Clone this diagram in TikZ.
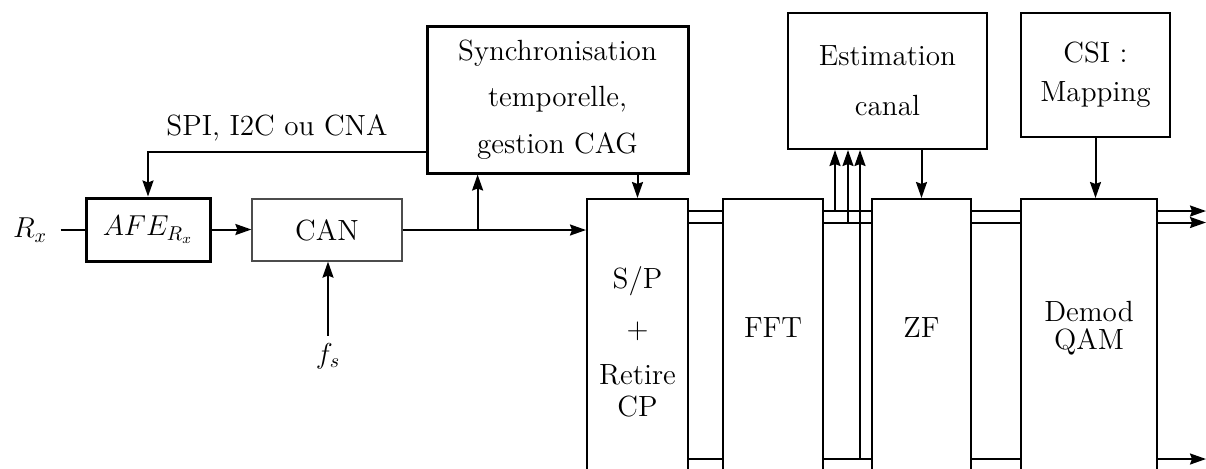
\documentclass[tikz,border=0pt]{standalone}
\usetikzlibrary{arrows.meta,calc}
\begin{document}
\begin{tikzpicture}[x=0.5pt,y=-0.5pt,
  every node/.style={font=\fontsize{14.6}{14}\selectfont},
  ln/.style={line width=1pt},
  arr/.style={line width=1pt,-{Stealth[length=8pt,width=5.5pt,inset=1pt]}},
  blk/.style={draw,line width=1pt,inner sep=0pt,align=center},
  thk/.style={draw,line width=1.5pt,inner sep=0pt,align=center},
  thn/.style={draw=black!70,line width=0.6pt,inner sep=0pt,align=center}]
\clip (0,0) rectangle (1206,468);
% upper-left chain
\node (rx) at (30,230) {$R_x$};
\node[thk,minimum width=62pt,minimum height=31.5pt] (afe) at (148,229.5) {$AFE_{R_x}$};
\node[thn,minimum width=75pt,minimum height=31pt] (can) at (327,230) {CAN};
\node (fs) at (328,356) {$f_s$};
\node[thk,minimum width=130.5pt,minimum height=73.5pt,font=\fontsize{14.6}{23.25}\selectfont] (sync) at (557.5,99.5) {Synchronisation\\temporelle,\\gestion CAG};
\node (spi) at (277,128) {SPI, I2C ou CNA};
% top blocks
\node[blk,minimum width=99.5pt,minimum height=68pt,font=\fontsize{14.6}{25}\selectfont] (est) at (887.5,81) {Estimation\\canal};
\node[blk,minimum width=74.5pt,minimum height=62pt,font=\fontsize{14.6}{19.5}\selectfont] (csi) at (1095.5,75) {CSI :\\Mapping};
% tall blocks
\node[blk,minimum width=50.5pt,minimum height=140.5pt] (sp) at (637.5,339.5) {};
\node[blk,minimum width=50pt,minimum height=140.5pt] (fft) at (773,339.5) {};
\node[blk,minimum width=49.5pt,minimum height=140.5pt] (zf) at (921.5,339.5) {};
\node[blk,minimum width=68pt,minimum height=140.5pt] (dem) at (1089,339.5) {};
\node[align=center] (spt) at (637.5,342) {S/P\\[11pt]$+$\\[9pt]Retire\\[2pt]CP};
\node (fftt) at (773,328) {FFT};
\node (zft) at (921.5,328) {ZF};
\node[align=center] (demt) at (1089,328) {Demod\\QAM};
% helper coordinates
\coordinate (y1) at (0,211);
\coordinate (y2) at (0,222.5);
\coordinate (y3) at (0,459);
\coordinate (xe) at (1206,0);
\coordinate (t1) at (835,0);
\coordinate (t2) at (848,0);
\coordinate (t3) at (860,0);
\coordinate (br) at ($(can.east)+(75,0)$);
\coordinate (spic) at ($(sync.south west)+(0,-23)$);
\coordinate (rxo) at ($(afe.west)+(-24,0)$);
\coordinate (fsin) at ($(can.south)+(1,74)$);
% connectors left part
\draw[ln] (rxo) -- (afe.west);
\draw[arr] (afe.east) -- (afe.east -| can.west);
\draw[arr] (can.east) -- (can.east -| sp.west);
\draw[arr] (br) -- (br |- sync.south);
\draw[arr] (fsin) -- (fsin |- can.south);
\draw[arr] (spic) -| (afe.north);
\draw[arr] (sync.south -| sp.north) -- (sp.north);
% bus lines
\foreach \a/\b in {sp/fft,fft/zf,zf/dem}{
  \draw[ln] (\a.east |- y1) -- (\b.west |- y1);
  \draw[ln] (\a.east |- y2) -- (\b.west |- y2);
  \draw[ln] (\a.east |- y3) -- (\b.west |- y3);
}
\draw[arr] (dem.east |- y1) -- (xe |- y1);
\draw[arr] (dem.east |- y2) -- (xe |- y2);
\draw[arr] (dem.east |- y3) -- (xe |- y3);
% feedback to estimation
\draw[arr] (t1 |- y1) -- (t1 |- est.south);
\draw[arr] (t2 |- y2) -- (t2 |- est.south);
\draw[arr] (t3 |- y3) -- (t3 |- est.south);
\draw[arr] (est.south -| zf.north) -- (zf.north);
\draw[arr] (csi.south) -- (csi.south |- dem.north);
\end{tikzpicture}
\end{document}
